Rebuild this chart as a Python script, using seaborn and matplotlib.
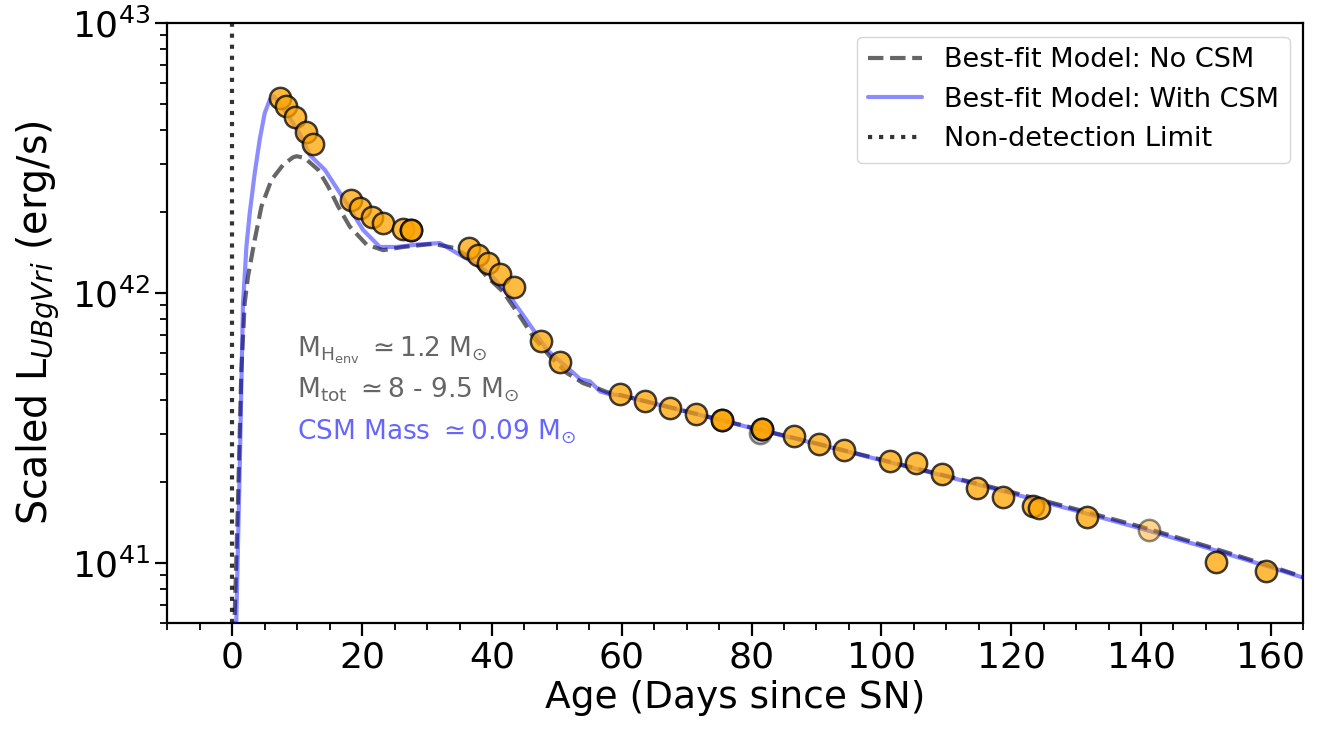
import numpy as np
import pandas as pd
import matplotlib
matplotlib.use("Agg")
import matplotlib.pyplot as plt
import seaborn as sns
from matplotlib.ticker import MultipleLocator

# Observed UBgVri pseudo-bolometric light curve (days since explosion, erg/s)
obs_days = [7.30, 8.23, 9.61, 11.42, 12.39, 18.26, 19.64, 21.45, 23.24, 26.33,
            27.52, 27.55, 36.51, 37.90, 39.44, 41.25, 43.46, 47.58, 50.51,
            59.77, 63.52, 67.48, 71.50, 75.46, 75.50, 81.60, 81.62, 86.51,
            90.37, 94.23, 101.25, 105.34, 109.41, 114.66, 118.67, 123.30,
            124.23, 131.64, 151.48, 159.31]
obs_lum = [5.28e42, 4.93e42, 4.48e42, 3.94e42, 3.56e42, 2.21e42, 2.07e42,
           1.91e42, 1.81e42, 1.72e42, 1.71e42, 1.71e42, 1.47e42, 1.38e42,
           1.29e42, 1.18e42, 1.05e42, 6.61e41, 5.57e41, 4.23e41, 3.96e41,
           3.76e41, 3.56e41, 3.39e41, 3.39e41, 3.12e41, 3.12e41, 2.95e41,
           2.76e41, 2.62e41, 2.39e41, 2.34e41, 2.13e41, 1.90e41, 1.76e41,
           1.63e41, 1.60e41, 1.48e41, 1.01e41, 9.29e40]

# Lower-quality epoch
faint_days = [141.30]
faint_lum = [1.32e41]

# Alternate reduction of the day-81 epoch
alt_days = [81.27]
alt_lum = [3.02e41]

# Best-fit model without circumstellar material
nocsm_days = [0.25, 0.35, 0.86, 1.39, 1.90, 2.41, 3.44, 4.48, 6.02, 7.81, 9.35,
              9.90, 11.16, 13.21, 14.75, 16.30, 18.10, 20.68, 23.24, 26.33,
              30.96, 34.04, 36.62, 39.20, 41.71, 44.34, 46.34, 48.97, 51.54,
              54.06, 56.17, 57.72, 60.0, 70.0, 80.0, 90.0, 100.0, 110.0,
              120.0, 130.0, 140.0, 150.0, 160.0, 165.0]
nocsm_lum = [2.5e40, 6.3e40, 1.66e41, 5.19e41, 9.16e41, 1.15e42, 1.57e42,
             2.09e42, 2.62e42, 2.98e42, 3.18e42, 3.21e42, 3.16e42, 2.86e42,
             2.48e42, 2.09e42, 1.76e42, 1.51e42, 1.44e42, 1.48e42, 1.52e42,
             1.47e42, 1.36e42, 1.15e42, 1.01e42, 8.17e41, 6.89e41, 5.81e41,
             5.05e41, 4.63e41, 4.44e41, 4.29e41, 4.17e41, 3.64e41, 3.17e41,
             2.77e41, 2.41e41, 2.10e41, 1.83e41, 1.58e41, 1.36e41, 1.155e41,
             9.72e40, 8.86e40]

# Best-fit model including circumstellar interaction
csm_days = [0.30, 0.62, 1.13, 1.64, 1.90, 2.16, 2.67, 3.44, 4.21, 4.98, 5.76,
            6.40, 7.30, 8.84, 10.39, 11.93, 14.24, 16.30, 17.59, 20.15, 22.73,
            25.31, 28.40, 31.99, 35.59, 38.16, 40.48, 42.79, 46.39, 48.46,
            52.56, 53.60, 55.10, 56.70, 58.20, 60.0, 70.0, 80.0, 90.0, 100.0,
            110.0, 120.0, 130.0, 140.0, 150.0, 160.0, 165.0]
csm_lum = [2.5e40, 6.3e40, 2.21e41, 9.16e41, 1.15e42, 1.48e42, 1.97e42,
           2.77e42, 3.69e42, 4.63e42, 5.19e42, 5.35e42, 5.04e42, 4.45e42,
           3.88e42, 3.24e42, 2.86e42, 2.40e42, 2.15e42, 1.71e42, 1.48e42,
           1.48e42, 1.51e42, 1.53e42, 1.36e42, 1.26e42, 1.12e42, 9.68e41,
           7.29e41, 6.15e41, 5.05e41, 4.79e41, 4.70e41, 4.31e41, 4.21e41,
           4.17e41, 3.63e41, 3.16e41, 2.76e41, 2.40e41, 2.09e41, 1.81e41,
           1.56e41, 1.34e41, 1.14e41, 9.62e40, 8.81e40]

# Last non-detection epoch
nondet_day = 0.0

obs = pd.DataFrame({"day": obs_days, "lum": obs_lum})
faint = pd.DataFrame({"day": faint_days, "lum": faint_lum})
alt = pd.DataFrame({"day": alt_days, "lum": alt_lum})
nocsm = pd.DataFrame({"day": nocsm_days, "lum": nocsm_lum})
csm = pd.DataFrame({"day": csm_days, "lum": csm_lum})

sns.set_style("ticks")
plt.rcParams["font.family"] = ["DejaVu Sans"]
plt.rcParams["mathtext.fontset"] = "dejavusans"
plt.rcParams["text.color"] = "k"
plt.rcParams["axes.labelcolor"] = "k"
plt.rcParams["xtick.color"] = "k"
plt.rcParams["ytick.color"] = "k"

fig = plt.figure(figsize=(13.3, 7.32), dpi=100)
ax = fig.add_axes([0.1259, 0.1493, 0.854, 0.8193])

ax.axvline(nondet_day, color="k", alpha=0.8, ls=":", lw=3, zorder=1,
           label="Non-detection Limit")
sns.lineplot(data=nocsm, x="day", y="lum", ax=ax, sort=False, estimator=None,
             color="k", alpha=0.6, lw=3, ls="--", zorder=2,
             label="Best-fit Model: No CSM")
sns.lineplot(data=csm, x="day", y="lum", ax=ax, sort=False, estimator=None,
             color="blue", alpha=0.45, lw=3, zorder=3,
             label="Best-fit Model: With CSM")

mk = dict(s=235, edgecolor="k", linewidth=1.8, legend=False)
sns.scatterplot(data=alt, x="day", y="lum", ax=ax, color="0.45", alpha=0.45,
                zorder=4, **mk)
sns.scatterplot(data=obs, x="day", y="lum", ax=ax, color="orange", alpha=0.75,
                zorder=5, **mk)
sns.scatterplot(data=faint, x="day", y="lum", ax=ax, color="orange", alpha=0.45,
                zorder=5, **mk)

ax.set_yscale("log")
ax.set_xlim(-10, 165)
ax.set_ylim(6.0e40, 1e43)
ax.xaxis.set_major_locator(MultipleLocator(20))
ax.xaxis.set_minor_locator(MultipleLocator(5))

ax.set_xlabel("Age (Days since SN)", fontsize=27, color="k")
ax.set_ylabel(r"Scaled L$_{UBgVri}$ (erg/s)", fontsize=28.5, color="k",
              labelpad=6)
ax.tick_params(axis="both", which="major", labelsize=26, length=9, width=1.6,
               color="k", labelcolor="k")
ax.tick_params(axis="both", which="minor", length=5, width=1.3, color="k")
for sp in ax.spines.values():
    sp.set_color("k")
    sp.set_linewidth(1.6)

ax.text(10, 5.8e41, r"M$_{\rm H_{env}}$ $\simeq$1.2 M$_{\odot}$",
        fontsize=19, color="k", alpha=0.6, va="baseline")
ax.text(10, 4.12e41, r"M$_{\rm tot}$ $\simeq$8 - 9.5 M$_{\odot}$",
        fontsize=19, color="k", alpha=0.6, va="baseline")
ax.text(10, 2.86e41, r"CSM Mass $\simeq$0.09 M$_{\odot}$",
        fontsize=19, color="blue", alpha=0.6, va="baseline")

handles, labels = ax.get_legend_handles_labels()
order = [labels.index(l) for l in ["Best-fit Model: No CSM",
                                   "Best-fit Model: With CSM",
                                   "Non-detection Limit"]]
ax.legend([handles[i] for i in order], [labels[i] for i in order],
          loc="upper right", fontsize=19.5, framealpha=0.8, edgecolor="0.8")

fig.savefig("out.png", dpi=100)
